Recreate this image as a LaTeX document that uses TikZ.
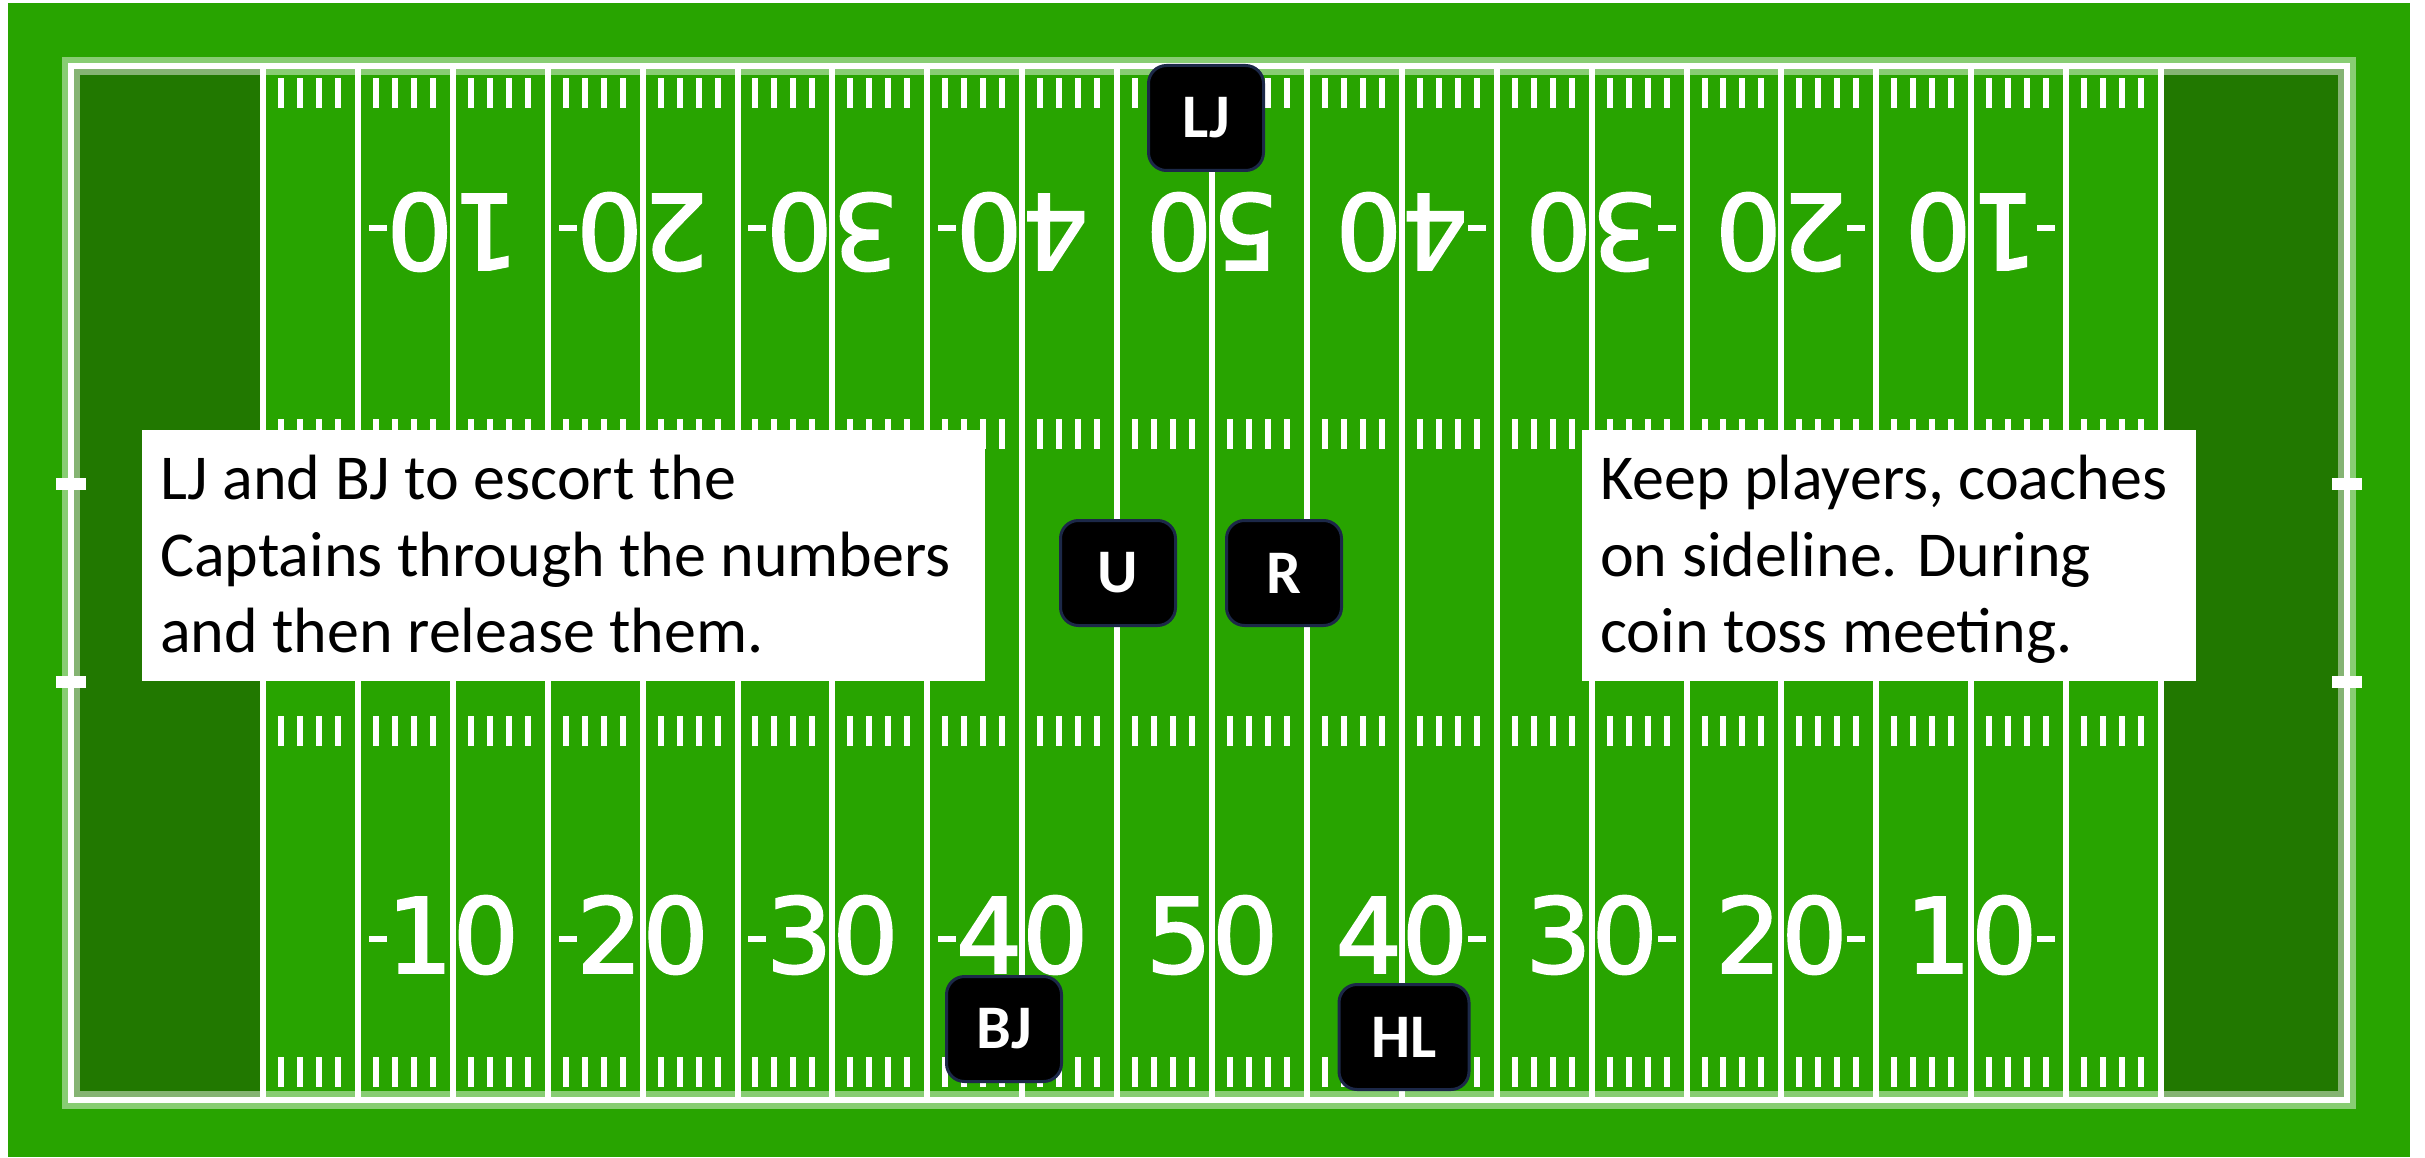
\documentclass[tikz,border=0pt]{standalone}
\usepackage{fontspec}
\setmainfont{Carlito}
\newfontfamily\numfont[BoldFont={DejaVu Sans}, BoldFeatures={FakeBold=2}]{DejaVu Sans}
\definecolor{turf}{RGB}{40,164,0}
\definecolor{ezone}{RGB}{33,120,0}
\definecolor{navy}{RGB}{28,40,72}
\tikzset{
  official/.style={draw=navy, line width=3pt, fill=black, rounded corners=18pt,
    text=white, font=\fontsize{62}{62}\bfseries\selectfont,
    minimum width=115pt, minimum height=105pt, inner sep=0pt},
  notebox/.style={fill=white, inner sep=0pt, anchor=north west},
  noteline/.style={anchor=base west, inner sep=0pt, text=black,
    font=\fontsize{64}{77}\selectfont},
  yardnum/.style={text=white, inner sep=0pt, font=\numfont\bfseries\fontsize{104}{104}\selectfont},
  yardline/.style={white, line width=6pt},
  tick/.style={white},
}
\begin{document}
\begin{tikzpicture}[x=1pt,y=-1pt]
\useasboundingbox (0,0) rectangle (2425,1158);
\fill[white] (0,0) rectangle (2425,1158);
\fill[turf] (8,3) rectangle (2410,1157);
% end zones
\fill[ezone] (71,66) rectangle (263,1100);
\fill[ezone] (2161,66) rectangle (2347,1100);
% hash ticks
\foreach \s in {0,...,19}{
  \foreach \j in {1,2,3,4}{
    \pgfmathsetmacro\xx{263+(5*\s+\j)*18.98-1}
    \fill[tick] ({\xx-3},78) rectangle ({\xx+3},108);
    \fill[tick] ({\xx-3},419) rectangle ({\xx+3},449);
    \fill[tick] ({\xx-3},716) rectangle ({\xx+3},746);
    \fill[tick] ({\xx-3},1057) rectangle ({\xx+3},1087);
  }
}
% yard lines and goal lines
\foreach \s in {0,...,20}{
  \draw[yardline] ({263+\s*94.9},66) -- ({263+\s*94.9},1100);
}
% sideline / end line boundary
\draw[white, opacity=0.45, line width=18pt] (71,66) rectangle (2347,1100);
\draw[white, line width=6pt] (71,66) rectangle (2347,1100);
% goal post markers
\fill[white] (56,478) rectangle (86,490);
\fill[white] (56,676) rectangle (86,688);
\fill[white] (2332,478) rectangle (2362,490);
\fill[white] (2332,676) rectangle (2362,688);
% yard numbers
\foreach \n/\t in {1/10,2/20,3/30,4/40,5/50,6/40,7/30,8/20,9/10}{
  \pgfmathsetmacro\xx{263+\n*189.8}
  \node[yardnum] (nb\n) at (\xx,935) {\t};
  \node[yardnum, rotate=180] (nt\n) at (\xx,232) {\t};
}
% direction marks
\foreach \n in {1,2,3,4}{
  \pgfmathsetmacro\xx{263+\n*189.8}
  \fill[white] ({\xx-84},936) rectangle ({\xx-66},942);
  \fill[white] ({\xx-84},225) rectangle ({\xx-66},231);
}
\foreach \n in {6,7,8,9}{
  \pgfmathsetmacro\xx{263+\n*189.8}
  \fill[white] ({\xx+66},936) rectangle ({\xx+84},942);
  \fill[white] ({\xx+66},225) rectangle ({\xx+84},231);
}
% note boxes
\node[notebox, minimum width=843pt, minimum height=251pt] (lbox) at (142,430) {};
\node[noteline] (l1) at (160,499) {LJ and BJ to escort the};
\node[noteline] (l2) at (160,576) {Captains through the numbers};
\node[noteline] (l3) at (160,652) {and then release them.};
\node[notebox, minimum width=614pt, minimum height=251pt] (rbox) at (1582,430) {};
\node[noteline] (r1) at (1600,499) {Keep players, coaches};
\node[noteline] (r2) at (1600,576) {on sideline. During};
\node[noteline] (r3) at (1600,652) {coin toss meeting.};
% officials
\node[official] (LJ) at (1206,118) {LJ};
\node[official] (U) at (1118,573) {U};
\node[official] (R) at (1284,573) {R};
\node[official] (BJ) at (1004,1029) {BJ};
\node[official, minimum width=130pt] (HL) at (1404,1037) {HL};
\end{tikzpicture}
\end{document}
